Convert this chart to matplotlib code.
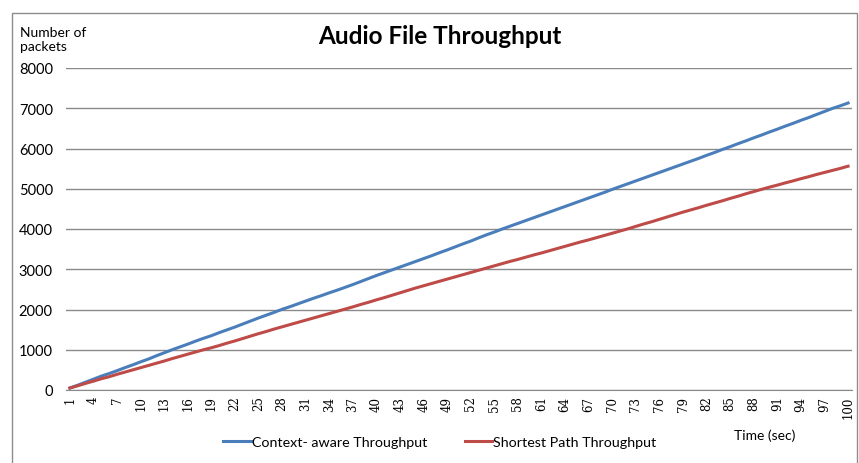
import matplotlib
matplotlib.use('Agg')
import matplotlib.pyplot as plt
from matplotlib.patches import Rectangle

plt.rcParams['font.family'] = ['Lato', 'DejaVu Sans']

# Time axis (seconds)
time_sec = list(range(1, 101))

# Context-aware throughput (packets)
context_aware = [
    50, 120, 195, 270, 345, 410, 480, 555, 625, 700,
    770, 850, 925, 1000, 1070, 1140, 1215, 1285, 1350, 1425,
    1495, 1565, 1640, 1715, 1790, 1860, 1930, 2005, 2070, 2140,
    2210, 2280, 2345, 2415, 2480, 2550, 2620, 2695, 2770, 2845,
    2915, 2985, 3055, 3125, 3195, 3265, 3335, 3410, 3480, 3555,
    3630, 3700, 3780, 3855, 3925, 4000, 4070, 4140, 4210, 4280,
    4350, 4420, 4490, 4560, 4630, 4700, 4770, 4840, 4910, 4985,
    5055, 5125, 5195, 5265, 5335, 5405, 5475, 5545, 5615, 5685,
    5755, 5830, 5900, 5975, 6045, 6120, 6190, 6265, 6335, 6410,
    6480, 6555, 6625, 6700, 6770, 6845, 6920, 6995, 7060, 7130,
]

# Shortest path throughput (packets)
shortest_path = [
    50, 105, 165, 220, 280, 330, 390, 445, 500, 555,
    610, 665, 720, 780, 835, 890, 945, 1000, 1050, 1105,
    1165, 1220, 1280, 1340, 1400, 1455, 1515, 1570, 1625, 1680,
    1735, 1790, 1845, 1900, 1955, 2010, 2065, 2125, 2180, 2240,
    2295, 2355, 2415, 2475, 2535, 2590, 2645, 2700, 2755, 2810,
    2865, 2920, 2975, 3030, 3085, 3140, 3195, 3245, 3300, 3355,
    3405, 3460, 3515, 3570, 3625, 3680, 3730, 3785, 3840, 3895,
    3950, 4005, 4065, 4125, 4180, 4240, 4300, 4360, 4420, 4475,
    4530, 4590, 4645, 4700, 4760, 4815, 4875, 4930, 4985, 5040,
    5090, 5145, 5195, 5250, 5300, 5355, 5405, 5455, 5505, 5560,
]

x_ticks = list(range(1, 101, 3))
y_ticks = [0, 1000, 2000, 3000, 4000, 5000, 6000, 7000, 8000]

fig = plt.figure(figsize=(8.59, 4.64), dpi=100)
ax = fig.add_axes([66 / 859, 1 - 391 / 464, 786 / 859, 322 / 464])

# Outer chart border
fig.patches.append(Rectangle((12 / 859, -0.05), 845 / 859, 1.05 - 14 / 464,
                             transform=fig.transFigure, fill=False,
                             edgecolor='#8c8c8c', linewidth=1))

ax.plot(time_sec, context_aware, color='#4A7EBB', linewidth=2.2,
        label='Context- aware Throughput')
ax.plot(time_sec, shortest_path, color='#BE4B48', linewidth=2.2,
        label='Shortest Path Throughput')

ax.set_xlim(0.5, 100.5)
ax.set_ylim(0, 8000)
ax.set_yticks(y_ticks)
ax.set_xticks(x_ticks)
ax.set_xticklabels([str(t) for t in x_ticks], rotation=90, fontsize=8.5,
                   family=['DejaVu Serif'])
ax.tick_params(axis='y', length=0, pad=9.5, labelsize=10.5)
ax.tick_params(axis='x', length=0, pad=4)
ax.grid(axis='y', color='#8a8a8a', linewidth=1)
ax.set_axisbelow(True)
for side in ['left', 'right', 'top']:
    ax.spines[side].set_visible(False)
ax.spines['bottom'].set_color('#8a8a8a')

fig.text(440 / 859, 1 - 37 / 464, 'Audio File Throughput', ha='center',
         va='center', fontsize=17.5, fontweight='bold')
fig.text(20 / 859, 1 - 27 / 464, 'Number of\npackets', ha='left', va='top',
         fontsize=10, linespacing=1.2)
fig.text(765 / 859, 1 - 436 / 464, 'Time (sec)', ha='center', va='center',
         fontsize=10)

ax.legend(loc='center', bbox_to_anchor=(440 / 859, 1 - 443 / 464),
          bbox_transform=fig.transFigure, ncol=2, frameon=False, fontsize=10.3,
          handlelength=1.9, handletextpad=0.1, columnspacing=2.6)

fig.savefig('out.png', dpi=100)
